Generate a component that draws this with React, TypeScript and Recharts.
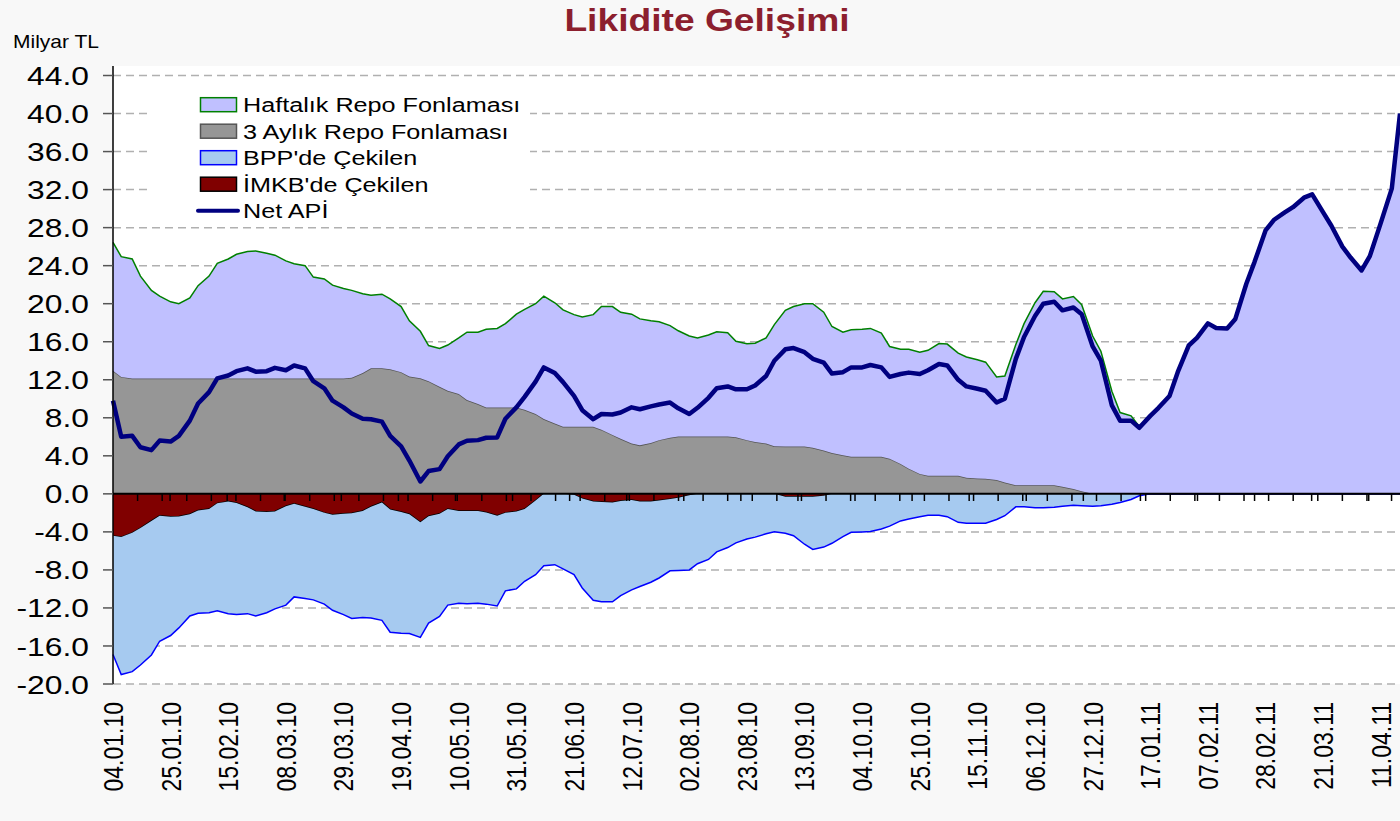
import React from "react";
import { ComposedChart, Area, Line, XAxis, YAxis, CartesianGrid, ReferenceLine } from "recharts";

// observations: Mondays and Thursdays, plus the last days of the period
const dates = [
  "04.01.10", "07.01.10", "11.01.10", "14.01.10", "18.01.10", "21.01.10", "25.01.10", "28.01.10",
  "01.02.10", "04.02.10", "08.02.10", "11.02.10", "15.02.10", "18.02.10", "22.02.10", "25.02.10",
  "01.03.10", "04.03.10", "08.03.10", "11.03.10", "15.03.10", "18.03.10", "22.03.10", "25.03.10", "29.03.10", "01.04.10",
  "05.04.10", "08.04.10", "12.04.10", "15.04.10", "19.04.10", "22.04.10", "26.04.10", "29.04.10",
  "03.05.10", "06.05.10", "10.05.10", "13.05.10", "17.05.10", "20.05.10", "24.05.10", "27.05.10", "31.05.10", "03.06.10",
  "07.06.10", "10.06.10", "14.06.10", "17.06.10", "21.06.10", "24.06.10", "28.06.10", "01.07.10",
  "05.07.10", "08.07.10", "12.07.10", "15.07.10", "19.07.10", "22.07.10", "26.07.10", "29.07.10",
  "02.08.10", "05.08.10", "09.08.10", "12.08.10", "16.08.10", "19.08.10", "23.08.10", "26.08.10", "30.08.10", "02.09.10",
  "06.09.10", "09.09.10", "13.09.10", "16.09.10", "20.09.10", "23.09.10", "27.09.10", "30.09.10",
  "04.10.10", "07.10.10", "11.10.10", "14.10.10", "18.10.10", "21.10.10", "25.10.10", "28.10.10",
  "01.11.10", "04.11.10", "08.11.10", "11.11.10", "15.11.10", "18.11.10", "22.11.10", "25.11.10", "29.11.10", "02.12.10",
  "06.12.10", "09.12.10", "13.12.10", "16.12.10", "20.12.10", "23.12.10", "27.12.10", "30.12.10",
  "03.01.11", "06.01.11", "10.01.11", "13.01.11", "17.01.11", "20.01.11", "24.01.11", "27.01.11", "31.01.11", "03.02.11",
  "07.02.11", "10.02.11", "14.02.11", "17.02.11", "21.02.11", "24.02.11", "28.02.11", "03.03.11",
  "07.03.11", "10.03.11", "14.03.11", "17.03.11", "21.03.11", "24.03.11", "28.03.11", "31.03.11",
  "04.04.11", "07.04.11", "11.04.11", "15.04.11", "18.04.11",
]

// Milyar TL
const haftalikRepo = [
  13.5, 12.65, 12.56, 10.76, 9.26, 8.66, 8.06, 7.86, 8.46, 9.76,
  10.76, 12.11, 12.56, 13.06, 13.36, 13.41, 13.16, 12.96, 12.36, 12.06,
  11.86, 10.66, 10.46, 9.81, 9.46, 9.2, 8.35, 7.7, 7.8, 7.4,
  6.9, 5.85, 4.95, 3.75, 4.04, 4.81, 5.9, 7.14, 7.55, 8.21,
  8.31, 8.81, 9.81, 10.55, 11.6, 12.94, 12.7, 12.3, 11.8, 11.55,
  11.8, 12.95, 13.5, 13.3, 13.6, 13.3, 12.85, 12.45, 11.8, 11.11,
  10.56, 10.36, 10.66, 11.01, 10.91, 10.1, 10.15, 10.4, 11.1, 12.8,
  14.32, 14.72, 15.02, 15.15, 14.55, 13.3, 12.95, 13.35, 13.4, 13.5,
  13.0, 11.8, 12.05, 12.55, 12.8, 13.2, 13.9, 13.85, 12.9, 12.7,
  12.48, 12.25, 10.85, 11.2, 14.8, 17.0, 19.2, 20.4, 20.35, 19.75,
  20.25, 19.64, 16.6, 15.0, 10.8, 8.55, 8.2, 7.1, 8.2, 9.05,
  10.3, 12.8, 15.6, 16.4, 17.93, 17.45, 17.4, 18.4, 22.1, 24.4,
  27.7, 28.8, 29.6, 30.15, 31.15, 31.5, 29.6, 28.2, 26.0, 24.85,
  23.5, 25.0, 28.5, 32.1, 40.0,
]

const ucAylikRepo = [
  12.95, 12.3, 12.14, 12.14, 12.14, 12.14, 12.14, 12.14, 12.14, 12.14,
  12.14, 12.14, 12.14, 12.14, 12.14, 12.14, 12.14, 12.14, 12.14, 12.14,
  12.14, 12.14, 12.14, 12.14, 12.14, 12.2, 12.7, 13.2, 13.2, 13.1,
  12.8, 12.35, 12.15, 11.85, 11.26, 10.84, 10.5, 9.86, 9.45, 9.09,
  9.09, 9.09, 9.09, 8.85, 8.4, 7.86, 7.4, 7.05, 7.05, 7.05,
  7.05, 6.75, 6.2, 5.8, 5.3, 5.1, 5.35, 5.65, 5.9, 6.04,
  6.04, 6.04, 6.04, 6.04, 6.04, 5.95, 5.65, 5.45, 5.3, 5.0,
  4.98, 4.98, 4.98, 4.85, 4.55, 4.3, 4.05, 3.9, 3.9, 3.9,
  3.9, 3.7, 3.15, 2.65, 2.1, 1.9, 1.9, 1.9, 1.9, 1.7,
  1.62, 1.6, 1.45, 1.2, 0.9, 0.9, 0.9, 0.9, 0.9, 0.75,
  0.5, 0.26, 0, 0, 0, 0, 0, 0, 0, 0,
  0, 0, 0, 0, 0, 0, 0, 0, 0, 0,
  0, 0, 0, 0, 0, 0, 0, 0, 0, 0,
  0, 0, 0, 0, 0,
]

const bppCekilen = [
  -12.48, -14.45, -14.6, -14.4, -14.1, -13.2, -12.48, -11.72, -10.71, -10.8,
  -10.9, -11.3, -11.8, -11.75, -11.2, -11.0, -10.6, -10.25, -10.4, -9.79,
  -9.65, -9.55, -9.6, -10.05, -10.6, -11.05, -11.2, -11.7, -12.4, -12.9,
  -12.75, -12.55, -12.1, -11.25, -10.8, -10.1, -9.7, -9.75, -9.7, -9.65,
  -9.5, -8.2, -8.15, -7.6, -7.8, -7.55, -7.45, -7.9, -8.4, -9.4,
  -10.4, -10.5, -10.45, -9.95, -9.45, -8.95, -8.5, -8.15, -7.55, -7.65,
  -7.85, -7.35, -6.9, -6.1, -5.65, -5.15, -4.75, -4.55, -4.2, -4.0,
  -3.85, -4.1, -5.0, -5.55, -5.4, -5.2, -4.5, -4.05, -4.0, -3.95,
  -3.7, -3.4, -2.85, -2.65, -2.4, -2.25, -2.25, -2.4, -3.0, -3.1,
  -3.1, -3.1, -2.7, -2.3, -1.37, -1.37, -1.45, -1.47, -1.4, -1.3,
  -1.2, -1.25, -1.3, -1.25, -1.1, -0.9, -0.6, -0.2, 0, 0,
  0, 0, 0, 0, 0, 0, 0, 0, 0, 0,
  0, 0, 0, 0, 0, 0, 0, 0, 0, 0,
  0, 0, 0, 0, 0,
]

const imkbCekilen = [
  -4.42, -4.55, -4.1, -3.6, -2.85, -2.3, -2.42, -2.38, -2.14, -1.75,
  -1.6, -1.0, -0.8, -0.95, -1.4, -1.85, -1.9, -1.85, -1.3, -1.05,
  -1.35, -1.6, -2.0, -2.2, -2.1, -2.05, -1.8, -1.35, -0.9, -1.65,
  -1.9, -2.15, -3.0, -2.35, -2.1, -1.6, -1.8, -1.8, -1.8, -1.95,
  -2.3, -2.0, -1.85, -1.6, -0.7, 0, 0, 0, -0.1, -0.5,
  -0.8, -0.85, -0.9, -0.75, -0.65, -0.8, -0.8, -0.7, -0.55, -0.4,
  -0.15, 0, 0, 0, 0, 0, 0, 0, 0, 0,
  -0.3, -0.3, -0.3, -0.3, -0.2, 0, 0, 0, 0, 0,
  0, 0, 0, 0, 0, 0, 0, 0, 0, 0,
  0, 0, 0, 0, 0, 0, 0, 0, 0, 0,
  0, 0, 0, 0, 0, 0, 0, 0, 0, 0,
  0, 0, 0, 0, 0, 0, 0, 0, 0, 0,
  0, 0, 0, 0, 0, 0, 0, 0, 0, 0,
  0, 0, 0, 0, 0,
]

const netApi = [
  9.8, 6.0, 6.1, 4.9, 4.6, 5.6, 5.5, 6.1, 7.7, 9.5,
  10.7, 12.15, 12.45, 12.9, 13.2, 12.85, 12.9, 13.25, 13.0, 13.5,
  13.2, 11.85, 11.1, 9.8, 9.1, 8.45, 7.9, 7.85, 7.6, 6.1,
  5.0, 3.5, 1.3, 2.4, 2.6, 3.95, 5.2, 5.58, 5.65, 5.9,
  5.93, 7.9, 9.1, 10.2, 11.8, 13.3, 12.7, 11.75, 10.3, 8.8,
  7.85, 8.4, 8.35, 8.55, 9.1, 8.9, 9.2, 9.4, 9.6, 9.0,
  8.4, 9.05, 10.1, 11.1, 11.3, 11.0, 11.0, 11.4, 12.4, 14.0,
  15.2, 15.33, 14.9, 14.2, 13.8, 12.65, 12.8, 13.3, 13.3, 13.55,
  13.3, 12.3, 12.6, 12.75, 12.6, 13.0, 13.65, 13.5, 12.0, 11.3,
  11.05, 10.85, 9.6, 10.0, 14.2, 16.5, 18.7, 20.0, 20.2, 19.3,
  19.6, 18.9, 15.5, 14.0, 9.3, 7.7, 7.7, 6.95, 8.2, 9.05,
  10.3, 12.8, 15.6, 16.4, 17.93, 17.45, 17.4, 18.4, 22.1, 24.4,
  27.7, 28.8, 29.6, 30.15, 31.15, 31.5, 29.6, 28.2, 26.0, 24.85,
  23.5, 25.0, 28.5, 32.1, 40.0,
]

const tickLabels = [
  "04.01.10", "25.01.10", "15.02.10", "08.03.10", "29.03.10", "19.04.10", "10.05.10", "31.05.10",
  "21.06.10", "12.07.10", "02.08.10", "23.08.10", "13.09.10", "04.10.10", "25.10.10", "15.11.10",
  "06.12.10", "27.12.10", "17.01.11", "07.02.11", "28.02.11", "21.03.11", "11.04.11",
]

const yTicks = [-20, -16, -12, -8, -4, 0, 4, 8, 12, 16, 20, 24, 28, 32, 36, 40, 44]

const legendItems = [
  { name: "Haftalık Repo Fonlaması", fill: "#c0c0ff", stroke: "#008000" },
  { name: "3 Aylık Repo Fonlaması", fill: "#969696", stroke: "#555555" },
  { name: "BPP'de Çekilen", fill: "#a6caf0", stroke: "#0000ff" },
  { name: "İMKB'de Çekilen", fill: "#800000", stroke: "#000000" },
  { name: "Net APİ", line: "#000080" },
]

const FONT = "'Liberation Sans', Arial, sans-serif"
const SX = 1.2 // the original picture is stretched horizontally

function toDay(s: string) {
  const [d, m, y] = s.split(".").map(Number)
  return (Date.UTC(2000 + y, m - 1, d) - Date.UTC(2010, 0, 4)) / 86400000
}

const data = dates.map((d, i) => ({
  day: toDay(d),
  haftalik: haftalikRepo[i],
  ucAylik: ucAylikRepo[i],
  bpp: bppCekilen[i],
  imkb: imkbCekilen[i],
  net: netApi[i],
}))

const tickDays = tickLabels.map(toDay)

// small tick marks hanging from the zero line (axis decoration)
const zeroTicks: number[] = []
for (let d = 8.96; d < 469; d += 8.96) zeroTicks.push(d)
for (let d = 20.8; d < 469; d += 20.8) zeroTicks.push(d)

function XTick(props: any) {
  const { x, y, payload } = props
  const idx = tickDays.indexOf(payload.value)
  return (
    <text
      transform={`translate(${x},${y + 16}) scale(${SX},1) rotate(-90)`}
      textAnchor="end"
      dy="0.36em"
      fontSize={23}
      fontFamily={FONT}
      fill="#000"
    >
      {tickLabels[idx]}
    </text>
  )
}

function YTick(props: any) {
  const { x, y, payload } = props
  return (
    <text
      transform={`translate(${x - 12},${y}) scale(${SX},1)`}
      textAnchor="end"
      dy="0.36em"
      fontSize={26.5}
      fontFamily={FONT}
      fill="#000"
    >
      {payload.value.toFixed(1)}
    </text>
  )
}

function Overlay() {
  return (
    <svg width={1400} height={821} style={{ position: "absolute", left: 0, top: 0, pointerEvents: "none" }}>
      <text
        transform={`translate(707,31) scale(${SX},1)`}
        textAnchor="middle"
        fontSize={31}
        fontWeight="bold"
        fontFamily={FONT}
        fill="#8c1f2e"
      >
        Likidite Gelişimi
      </text>
      <text transform={`translate(13,48) scale(${SX},1)`} fontSize={17.5} fontFamily={FONT} fill="#000">
        Milyar TL
      </text>
      <rect x={152} y={84} width={378} height={138} fill="#fff" />
      {legendItems.map((it, i) => {
        const cy = 104.7 + i * 26.5
        return (
          <g key={it.name}>
            {it.line ? (
              <line x1={198} x2={238} y1={cy} y2={cy} stroke={it.line} strokeWidth={4} strokeLinecap="round" />
            ) : (
              <rect x={200.5} y={cy - 7} width={36} height={14} fill={it.fill} stroke={it.stroke} strokeWidth={1.5} />
            )}
            <text
              transform={`translate(243,${cy}) scale(${SX},1)`}
              dy="0.36em"
              fontSize={21}
              fontFamily={FONT}
              fill="#000"
            >
              {it.name}
            </text>
          </g>
        )
      })}
    </svg>
  )
}

export default function App() {
  return (
    <div style={{ position: "absolute", left: 0, top: 0, width: 1400, height: 821, background: "#f8f8f8", overflow: "hidden" }}>
      {/* white plot area behind the chart */}
      <div style={{ position: "absolute", left: 113, top: 66, width: 1287, height: 618, background: "#ffffff" }} />
      <div style={{ position: "absolute", left: 0, top: 0 }}>
        <ComposedChart width={1400} height={821} data={data} margin={{ top: 66, right: 0, bottom: 0, left: 0 }}>
          <CartesianGrid
            vertical={false}
            horizontalValues={yTicks}
            stroke="#b0b0b0"
            strokeDasharray="8 5"
            strokeWidth={1.5}
          />
          <XAxis
            dataKey="day"
            type="number"
            domain={[0, 469]}
            ticks={tickDays}
            interval={0}
            height={137}
            axisLine={false}
            tickLine={false}
            tickSize={0}
            tick={<XTick />}
          />
          <YAxis
            type="number"
            domain={[-20, 45]}
            ticks={yTicks}
            interval={0}
            width={113}
            allowDataOverflow
            axisLine={{ stroke: "#000", strokeWidth: 1.5 }}
            tickLine={{ stroke: "#555", strokeWidth: 1.5 }}
            tickSize={10}
            tick={<YTick />}
          />
          <Area
            type="linear"
            dataKey="ucAylik"
            stackId="pos"
            fill="#969696"
            fillOpacity={1}
            stroke="#555555"
            strokeWidth={1.5}
            isAnimationActive={false}
          />
          <Area
            type="linear"
            dataKey="haftalik"
            stackId="pos"
            fill="#c0c0ff"
            fillOpacity={1}
            stroke="#008000"
            strokeWidth={1.5}
            isAnimationActive={false}
          />
          <Area
            type="linear"
            dataKey="imkb"
            stackId="neg"
            fill="#800000"
            fillOpacity={1}
            stroke="#000000"
            strokeWidth={1.5}
            isAnimationActive={false}
          />
          <Area
            type="linear"
            dataKey="bpp"
            stackId="neg"
            fill="#a6caf0"
            fillOpacity={1}
            stroke="#0000ff"
            strokeWidth={1.5}
            isAnimationActive={false}
          />
          {zeroTicks.map((d) => (
            <ReferenceLine
              key={`zt-${d}`}
              segment={[{ x: d, y: 0 }, { x: d, y: -0.75 }]}
              stroke="#000"
              strokeWidth={1.5}
            />
          ))}
          <ReferenceLine y={0} stroke="#000" strokeWidth={2} />
          <Line
            type="linear"
            dataKey="net"
            stroke="#000080"
            strokeWidth={4.5}
            dot={false}
            strokeLinejoin="round"
            isAnimationActive={false}
          />
        </ComposedChart>
      </div>
      <Overlay />
    </div>
  )
}
